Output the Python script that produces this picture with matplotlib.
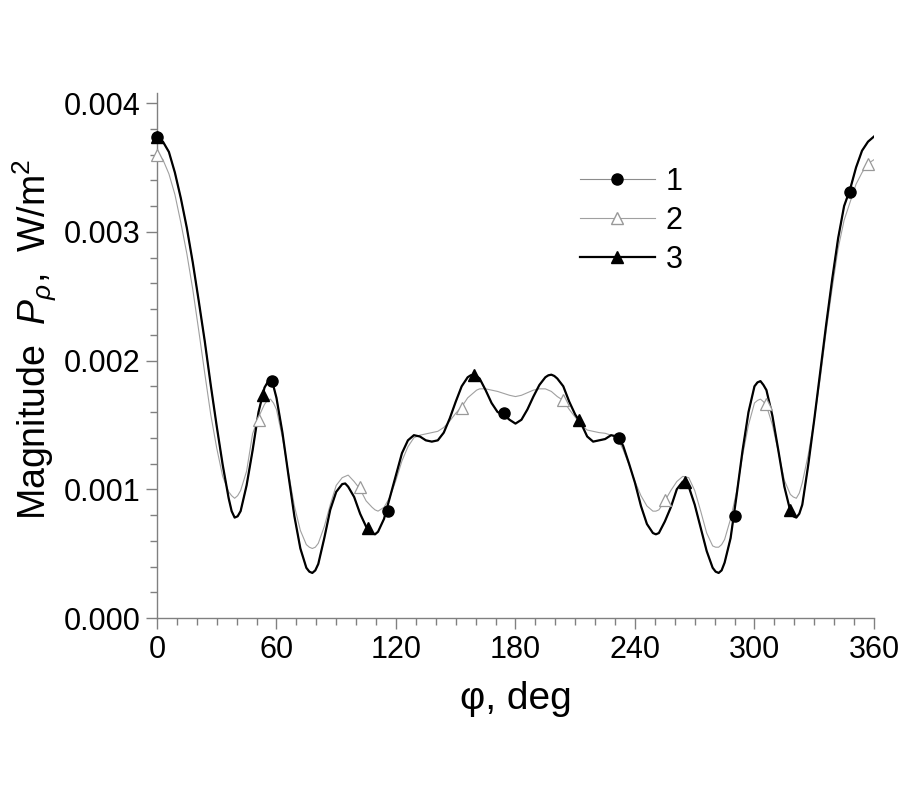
import numpy as np
import matplotlib
matplotlib.use('Agg')
import matplotlib.pyplot as plt
from matplotlib.lines import Line2D
from matplotlib.ticker import MultipleLocator, FormatStrFormatter

plt.rcParams['font.family'] = ['Liberation Sans', 'DejaVu Sans']
plt.rcParams['mathtext.fontset'] = 'custom'
plt.rcParams['mathtext.rm'] = 'Liberation Sans'
plt.rcParams['mathtext.it'] = 'Liberation Sans:italic'

# angle, deg (3 deg step, extra points near the extrema)
phi = [0, 3, 6, 9, 12, 15, 18, 21, 24, 27,
       30, 33, 36, 37.5, 39, 40.5, 42, 45, 48, 51, 54, 55.5, 57, 58.5,
       60, 63, 66, 69, 72, 75, 76.5, 78, 79.5, 81, 84, 87,
       90, 93, 94.5, 96, 99, 102, 105, 108, 109.5, 111, 114, 117,
       120, 123, 126, 129, 132, 135, 138, 141, 144, 147,
       150, 153, 156, 157.5, 159, 160.5, 162, 165, 168, 171, 174, 177,
       180, 183, 186, 189, 192, 195, 196.5, 198, 199.5, 201, 204, 207,
       210, 213, 216, 219, 222, 225, 228, 231, 234, 237,
       240, 243, 246, 249, 250.5, 252, 255, 258, 261, 264, 267,
       270, 273, 276, 279, 280.5, 282, 283.5, 285, 288, 291, 294, 297,
       300, 301.5, 303, 304.5, 306, 309, 312, 315, 318, 319.5, 321, 322.5, 324, 327,
       330, 333, 336, 339, 342, 345, 348, 351, 354, 357, 360]

# magnitude, 1e-3 W/m^2
p3 = [3.74, 3.70, 3.62, 3.46, 3.26, 3.03, 2.76, 2.46, 2.15, 1.81,
      1.49, 1.19, 0.93, 0.83, 0.78, 0.79, 0.83, 1.03, 1.30, 1.60, 1.79, 1.83, 1.84, 1.80,
      1.71, 1.44, 1.11, 0.79, 0.54, 0.39, 0.36, 0.35, 0.37, 0.42, 0.62, 0.84,
      0.98, 1.04, 1.045, 1.02, 0.94, 0.81, 0.71, 0.66, 0.65, 0.67, 0.77, 0.94,
      1.11, 1.28, 1.38, 1.42, 1.41, 1.38, 1.37, 1.38, 1.44, 1.55,
      1.68, 1.80, 1.87, 1.885, 1.89, 1.88, 1.86, 1.77, 1.67, 1.60, 1.58, 1.54,
      1.51, 1.54, 1.62, 1.72, 1.81, 1.87, 1.885, 1.89, 1.88, 1.86, 1.80, 1.68,
      1.58, 1.51, 1.41, 1.37, 1.38, 1.39, 1.42, 1.41, 1.34, 1.20,
      1.05, 0.87, 0.73, 0.66, 0.65, 0.66, 0.75, 0.86, 1.00, 1.06, 1.02,
      0.88, 0.70, 0.52, 0.39, 0.36, 0.35, 0.37, 0.43, 0.62, 0.95, 1.30, 1.60,
      1.80, 1.83, 1.84, 1.81, 1.77, 1.57, 1.30, 1.02, 0.83, 0.79, 0.78, 0.81, 0.88, 1.19,
      1.54, 1.91, 2.28, 2.63, 2.95, 3.20, 3.33, 3.50, 3.63, 3.70, 3.74]
p1 = list(p3)  # curve 1 lies under curve 3
p2 = [3.60, 3.56, 3.45, 3.29, 3.07, 2.83, 2.55, 2.23, 1.90, 1.58,
      1.32, 1.10, 0.98, 0.95, 0.93, 0.95, 0.99, 1.14, 1.43, 1.56, 1.66, 1.69, 1.70, 1.67,
      1.62, 1.40, 1.13, 0.87, 0.68, 0.57, 0.55, 0.54, 0.55, 0.58, 0.71, 0.88,
      1.03, 1.09, 1.10, 1.11, 1.06, 1.00, 0.91, 0.86, 0.84, 0.83, 0.86, 0.94,
      1.07, 1.22, 1.33, 1.40, 1.42, 1.43, 1.44, 1.45, 1.48, 1.53,
      1.59, 1.64, 1.71, 1.73, 1.75, 1.77, 1.78, 1.78, 1.77, 1.76, 1.745, 1.73,
      1.72, 1.73, 1.75, 1.77, 1.78, 1.78, 1.77, 1.76, 1.74, 1.72, 1.69, 1.62,
      1.56, 1.50, 1.46, 1.45, 1.44, 1.435, 1.42, 1.40, 1.31, 1.19,
      1.06, 0.95, 0.87, 0.83, 0.83, 0.84, 0.91, 0.99, 1.06, 1.10, 1.09,
      0.99, 0.83, 0.66, 0.56, 0.55, 0.55, 0.57, 0.61, 0.77, 0.98, 1.26, 1.50,
      1.67, 1.69, 1.70, 1.68, 1.65, 1.50, 1.29, 1.07, 0.96, 0.94, 0.93, 0.97, 1.05, 1.27,
      1.54, 1.86, 2.23, 2.56, 2.87, 3.09, 3.23, 3.37, 3.46, 3.53, 3.56]

# marker points
phi_m1 = [0, 58, 116, 174, 232, 290, 348]
p_m1 = [3.74, 1.84, 0.83, 1.59, 1.40, 0.79, 3.31]
phi_m2 = [0, 51, 102, 153, 204, 255, 306, 357]
p_m2 = [3.60, 1.54, 1.02, 1.63, 1.69, 0.92, 1.66, 3.53]
phi_m3 = [0, 53, 106, 159, 212, 265, 318]
p_m3 = [3.74, 1.73, 0.70, 1.89, 1.54, 1.06, 0.84]

labels = ['1', '2', '3']

assert len(phi) == len(p3) == len(p2)

k = 1e-3
fig = plt.figure(figsize=(9, 8), dpi=100)
ax = fig.add_axes([0.1744, 0.2275, 0.7967, 0.65625])

ax.plot(phi, np.array(p1) * k, color='#8c8c8c', lw=0.8, zorder=2)
ax.plot(phi, np.array(p2) * k, color='#a0a0a0', lw=0.8, zorder=2)
ax.plot(phi, np.array(p3) * k, color='black', lw=1.6, zorder=3)

ax.plot(phi_m1, np.array(p_m1) * k, 'o', ms=8, color='black', zorder=5, clip_on=False)
ax.plot(phi_m2, np.array(p_m2) * k, '^', ms=9, mfc='white', mec='#999999', mew=0.9,
        zorder=4, clip_on=False)
ax.plot(phi_m3, np.array(p_m3) * k, '^', ms=9, color='black', zorder=5, clip_on=False)

ax.set_xlim(0, 360)
ax.set_ylim(0, 0.004078)
ax.xaxis.set_major_locator(MultipleLocator(60))
ax.xaxis.set_minor_locator(MultipleLocator(10))
ax.yaxis.set_major_locator(MultipleLocator(0.001))
ax.yaxis.set_minor_locator(MultipleLocator(0.0002))
ax.yaxis.set_major_formatter(FormatStrFormatter('%.3f'))

for s in ['top', 'right']:
    ax.spines[s].set_visible(False)
for s in ['left', 'bottom']:
    ax.spines[s].set_color('#808080')
    ax.spines[s].set_linewidth(1.0)
ax.tick_params(which='major', direction='out', length=8, width=1.0, color='#808080',
               labelsize=22, pad=4)
ax.tick_params(which='minor', direction='out', length=5, width=1.0, color='#808080')

ax.set_xlabel('φ, deg', fontsize=28, labelpad=12)
ax.set_ylabel('Magnitude  $\\mathit{P}_{\\rho}$,  W/m$^2$', fontsize=27)
ax.yaxis.set_label_coords(-0.136, 0.53)

handles = [
    Line2D([], [], color='#8c8c8c', lw=0.8, marker='o', ms=8, mfc='black', mec='black'),
    Line2D([], [], color='#a0a0a0', lw=0.8, marker='^', ms=9, mfc='white', mec='#999999'),
    Line2D([], [], color='black', lw=1.6, marker='^', ms=9, mfc='black', mec='black'),
]
ax.legend(handles, labels, loc='upper left', bbox_to_anchor=(0.59, 0.86), frameon=False,
          fontsize=22, handlelength=2.45, handletextpad=0.35, labelspacing=0.3,
          borderpad=0, borderaxespad=0)

fig.savefig('out.png', dpi=100)
